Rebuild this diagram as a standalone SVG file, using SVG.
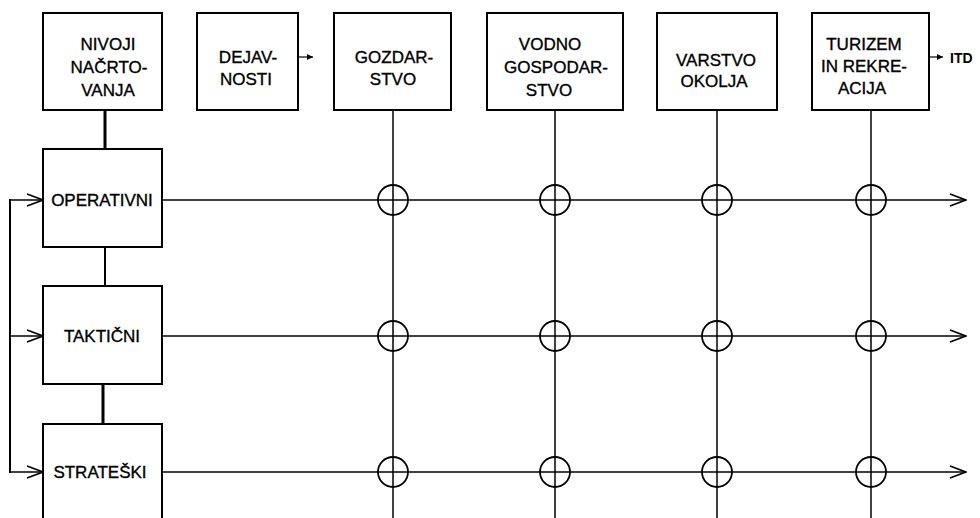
<svg xmlns="http://www.w3.org/2000/svg" width="980" height="518" viewBox="0 0 980 518">
<style>
.box{fill:#fff;stroke:#000;stroke-width:2}
.t{font-family:"Liberation Sans",Arial,sans-serif;font-size:17px;fill:#000;stroke:#000;stroke-width:0.35;text-anchor:middle}
.ln{stroke:#000;stroke-width:1.5;fill:none}
.thick{stroke:#000;stroke-width:3;fill:none}
.ring{stroke:#000;stroke-width:1.8;fill:none}
</style>
<defs>
<marker id="chev" viewBox="0 0 18 14" refX="17" refY="7" markerWidth="18" markerHeight="14" markerUnits="userSpaceOnUse" orient="auto">
<path d="M1,1 L17,7 L1,13" fill="none" stroke="#000" stroke-width="1.6"/>
</marker>
<marker id="small" viewBox="0 0 6 6" refX="6" refY="3" markerWidth="6" markerHeight="6" markerUnits="userSpaceOnUse" orient="auto">
<path d="M0,0 L6,3 L0,6 Z" fill="#000"/>
</marker>
</defs>
<rect width="980" height="518" fill="#fff"/>
<g id="connectors">
<line class="thick" x1="105" y1="110" x2="105" y2="149"/>
<line class="ln" x1="105" y1="247" x2="105" y2="286" style="stroke-width:2"/>
<line class="thick" x1="103" y1="384" x2="103" y2="424"/>
<line class="ln" x1="393" y1="110" x2="393" y2="518"/>
<line class="ln" x1="555" y1="110" x2="555" y2="518"/>
<line class="ln" x1="717" y1="110" x2="717" y2="518"/>
<line class="ln" x1="871" y1="110" x2="871" y2="518"/>
<line class="ln" x1="162" y1="200" x2="966" y2="200" marker-end="url(#chev)"/>
<line class="ln" x1="162" y1="336" x2="966" y2="336" marker-end="url(#chev)"/>
<line class="ln" x1="162" y1="472" x2="966" y2="472" marker-end="url(#chev)"/>
<line class="ln" x1="10" y1="199" x2="10" y2="473" style="stroke-width:2"/>
<line class="ln" x1="10" y1="200" x2="43" y2="200" marker-end="url(#chev)"/>
<line class="ln" x1="10" y1="336" x2="43" y2="336" marker-end="url(#chev)"/>
<line class="ln" x1="10" y1="472" x2="43" y2="472" marker-end="url(#chev)"/>
<line class="ln" x1="299" y1="57" x2="313" y2="57" style="stroke-width:1.2" marker-end="url(#small)"/>
<line class="ln" x1="930" y1="57" x2="943" y2="57" style="stroke-width:1.2" marker-end="url(#small)"/>
<circle class="ring" cx="393" cy="200" r="15"/>
<circle class="ring" cx="555" cy="200" r="15"/>
<circle class="ring" cx="717" cy="200" r="15"/>
<circle class="ring" cx="871" cy="200" r="15"/>
<circle class="ring" cx="393" cy="336" r="15"/>
<circle class="ring" cx="555" cy="336" r="15"/>
<circle class="ring" cx="717" cy="336" r="15"/>
<circle class="ring" cx="871" cy="336" r="15"/>
<circle class="ring" cx="393" cy="472" r="15"/>
<circle class="ring" cx="555" cy="472" r="15"/>
<circle class="ring" cx="717" cy="472" r="15"/>
<circle class="ring" cx="871" cy="472" r="15"/>
</g>
<g id="nivoji">
<rect class="box" x="43" y="13" width="119" height="97"/>
<text class="t" x="108" y="50">NIVOJI</text>
<text class="t" x="109" y="73">NAČRTO-</text>
<text class="t" x="108" y="96">VANJA</text>
</g>
<g id="dejavnosti">
<rect class="box" x="197" y="13" width="101" height="97"/>
<text class="t" x="248" y="63">DEJAV-</text>
<text class="t" x="246" y="85">NOSTI</text>
</g>
<g id="gozdarstvo">
<rect class="box" x="334" y="13" width="117" height="97"/>
<text class="t" x="394" y="63">GOZDAR-</text>
<text class="t" x="393" y="85">STVO</text>
</g>
<g id="vodno">
<rect class="box" x="487" y="13" width="136" height="97"/>
<text class="t" x="550" y="50">VODNO</text>
<text class="t" x="556" y="73">GOSPODAR-</text>
<text class="t" x="549" y="96">STVO</text>
</g>
<g id="varstvo">
<rect class="box" x="657" y="13" width="120" height="97"/>
<text class="t" x="716" y="66">VARSTVO</text>
<text class="t" x="714" y="87">OKOLJA</text>
</g>
<g id="turizem">
<rect class="box" x="812" y="13" width="117" height="97"/>
<text class="t" x="864" y="50">TURIZEM</text>
<text class="t" x="864" y="72">IN REKRE-</text>
<text class="t" x="862" y="94">ACIJA</text>
</g>
<g id="itd">
<text x="950" y="63" style="font-family:'Liberation Sans',Arial,sans-serif;font-size:14px;font-weight:bold">ITD</text>
</g>
<g id="operativni">
<rect class="box" x="43" y="149" width="119" height="98"/>
<text class="t" x="102" y="206">OPERATIVNI</text>
</g>
<g id="takticni">
<rect class="box" x="43" y="286" width="119" height="98"/>
<text class="t" x="102" y="342">TAKTIČNI</text>
</g>
<g id="strateski">
<rect class="box" x="43" y="424" width="119" height="110"/>
<text class="t" x="100" y="478">STRATEŠKI</text>
</g>
</svg>
